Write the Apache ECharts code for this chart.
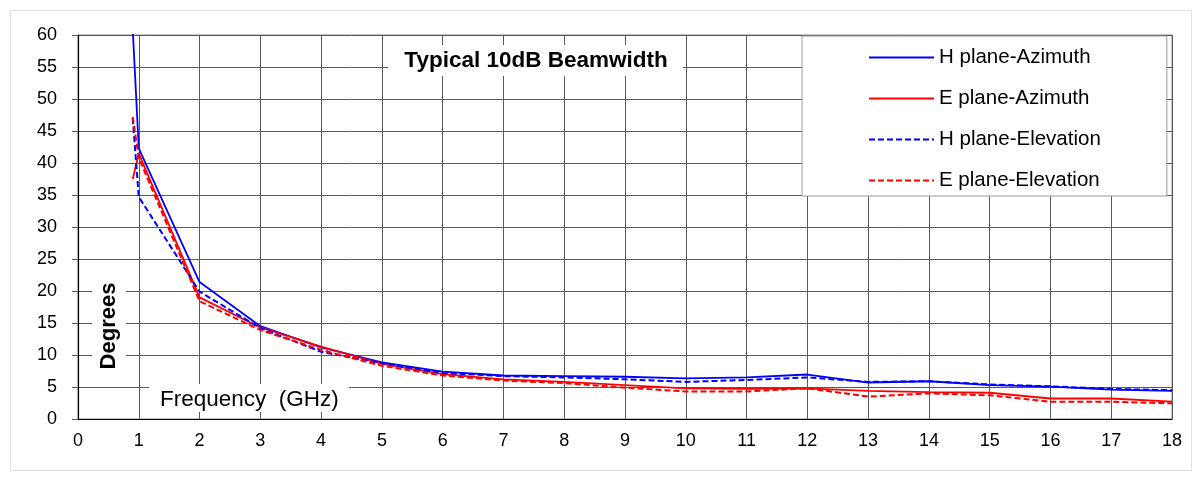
<!DOCTYPE html>
<html>
<head>
<meta charset="utf-8">
<script src="https://cdn.jsdelivr.net/npm/echarts@6/dist/echarts.min.js"></script>
<style>
html,body{margin:0;padding:0;background:#fff;}
#main{width:1197px;height:477px;}
</style>
</head>
<body>
<div id="main"></div>
<script>
// Frequencies (GHz)
const freqs = [0.9, 1, 2, 3, 4, 5, 6, 7, 8, 9, 10, 11, 12, 13, 14, 15, 16, 17, 18];
// Beamwidth values (degrees)
const hAzimuth   = [61, 42.3, 21.4, 14.5, 11.2, 8.85, 7.4, 6.8, 6.7, 6.6, 6.35, 6.5, 6.95, 5.7, 5.9, 5.3, 5.05, 4.6, 4.4];
const eAzimuth   = [37.5, 41.5, 19.0, 14.3, 11.3, 8.6, 7.0, 6.2, 5.8, 5.3, 4.8, 4.7, 4.8, 4.4, 4.2, 4.1, 3.2, 3.2, 2.7];
const hElevation = [47.0, 34.7, 19.9, 14.2, 10.5, 8.7, 7.2, 6.7, 6.5, 6.2, 5.8, 6.1, 6.5, 5.8, 5.9, 5.4, 5.1, 4.7, 4.5];
const eElevation = [47.2, 40.8, 18.4, 13.9, 10.8, 8.3, 6.8, 6.0, 5.6, 4.9, 4.3, 4.3, 4.8, 3.5, 4.0, 3.7, 2.7, 2.7, 2.45];
const seriesNames = ['H plane-Azimuth', 'E plane-Azimuth', 'H plane-Elevation', 'E plane-Elevation'];
const xTicks = [0, 18, 1];   // min, max, interval
const yTicks = [0, 60, 5];
const titleText = 'Typical 10dB Beamwidth';
const yName = 'Degrees';
const xName = 'Frequency  (GHz)';

const font = '"Liberation Sans", Arial, sans-serif';
function pairs(arr){ return freqs.map((f,i)=>[f, arr[i]]); }
function mk(name, data, color, dashed){
  return {
    name, type:'line', data: pairs(data), symbol:'none', clip:true,
    lineStyle:{color, width: dashed ? 2 : 1.8, type: dashed ? [6,3] : 'solid'},
    itemStyle:{color}, emphasis:{disabled:true}, animation:false
  };
}

const chart = echarts.init(document.getElementById('main'), null, {renderer:'canvas'});
chart.setOption({
  animation:false,
  backgroundColor:'#fff',
  grid:{left:78, top:35, right:25, bottom:58, show:true, borderColor:'#8a8a8a', borderWidth:1, backgroundColor:'#fff'},
  xAxis:{
    type:'value', min:xTicks[0], max:xTicks[1], interval:xTicks[2],
    axisLine:{show:true, lineStyle:{color:'#000', width:1.2}},
    axisTick:{show:false},
    axisLabel:{color:'#000', fontSize:18, fontFamily:font, margin:13},
    splitLine:{show:true, lineStyle:{color:'#5a5a5a', width:1}}
  },
  yAxis:{
    type:'value', min:yTicks[0], max:yTicks[1], interval:yTicks[2],
    axisLine:{show:true, lineStyle:{color:'#000', width:1.2}},
    axisTick:{show:true, length:6, lineStyle:{color:'#5a5a5a'}},
    axisLabel:{color:'#000', fontSize:18, fontFamily:font, margin:21},
    splitLine:{show:true, lineStyle:{color:'#5a5a5a', width:1}}
  },
  legend:{
    show:true, orient:'vertical', left:802, top:36,
    padding:[11, 66, 5, 66], itemGap:20, itemWidth:65, itemHeight:14,
    backgroundColor:'#fff', borderColor:'#9a9a9a', borderWidth:1,
    itemStyle:{opacity:0},
    textStyle:{color:'#000', fontSize:20.5, fontFamily:font, lineHeight:20},
    data: seriesNames, selectedMode:false
  },
  graphic:[
    {type:'rect', left:8, top:8, shape:{width:1181, height:460}, style:{fill:null, stroke:'#dde5dd', lineWidth:1}, z:-10, silent:true},
    {type:'rect', left:388, top:45, shape:{width:295, height:31}, style:{fill:'#fff'}, z:50},
    {type:'text', x:536, y:61, style:{text:titleText, font:'bold 22.5px '+font, fill:'#000', align:'center', verticalAlign:'middle'}, z:51},
    {type:'rect', left:92, top:262, shape:{width:34, height:122}, style:{fill:'#fff'}, z:50},
    {type:'text', x:109, y:326, rotation:Math.PI/2, style:{text:yName, font:'bold 22px '+font, fill:'#000', align:'center', verticalAlign:'middle'}, z:51},
    {type:'rect', left:149, top:384, shape:{width:200, height:28}, style:{fill:'#fff'}, z:50},
    {type:'text', x:160, y:400, style:{text:xName, font:'22.5px '+font, fill:'#000', align:'left', verticalAlign:'middle'}, z:51}
  ],
  series:[
    mk(seriesNames[0], hAzimuth, '#0000ff', false),
    mk(seriesNames[1], eAzimuth, '#ff0000', false),
    mk(seriesNames[2], hElevation, '#0000ff', true),
    mk(seriesNames[3], eElevation, '#ff0000', true)
  ]
});
</script>
</body>
</html>
